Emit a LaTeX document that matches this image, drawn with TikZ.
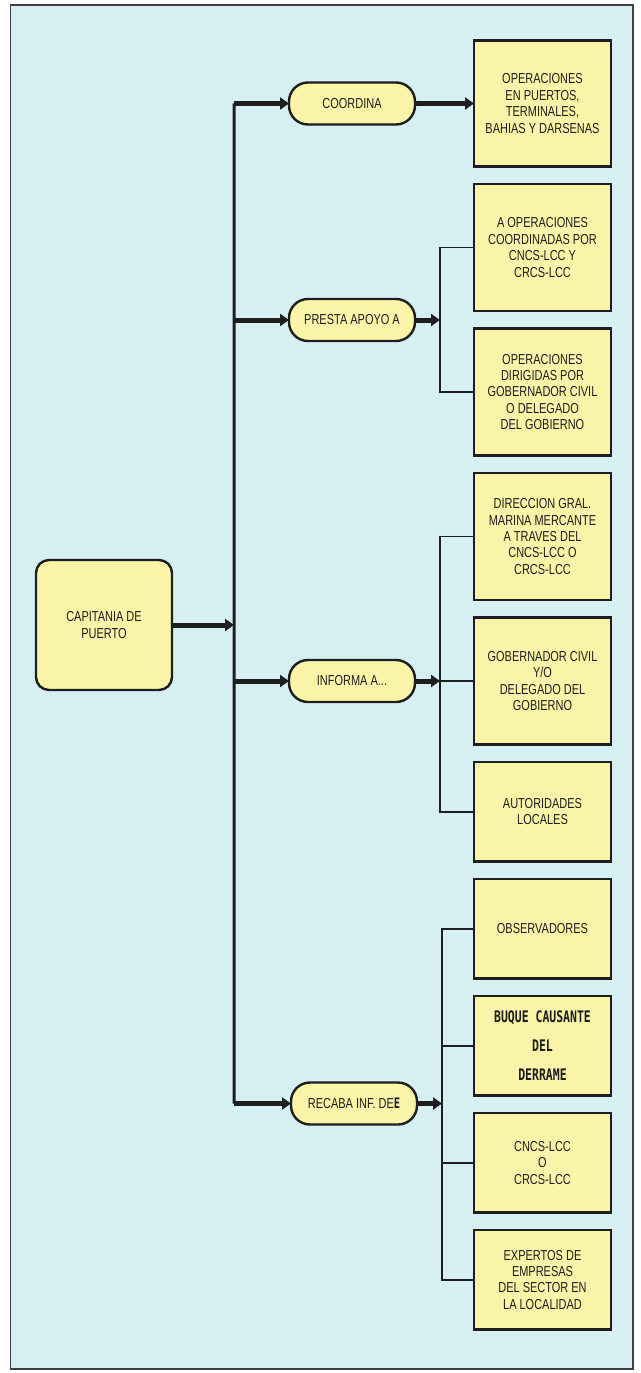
\documentclass[tikz,border=0pt]{standalone}
\usepackage{fontspec}
\setmainfont{Liberation Sans}[FakeStretch=0.76]
\newfontfamily\buquefont{DejaVu Sans Mono}[FakeStretch=0.72]
\usetikzlibrary{positioning,arrows.meta}
\definecolor{seablue}{RGB}{213,239,243}
\definecolor{boxyellow}{RGB}{250,244,168}
\definecolor{ink}{RGB}{30,30,30}

\begin{document}
\begin{tikzpicture}[
    x=1bp, y=-1bp,
    txt/.style={align=center, text=ink, font=\fontsize{14.5}{16.5}\selectfont},
    box/.style={txt, draw=ink, fill=boxyellow, line width=2.6bp, minimum width=137bp, inner sep=2bp, outer sep=0pt},
    tallbox/.style={box, minimum height=127bp},
    lowbox/.style={box, minimum height=99.5bp},
    pill/.style={txt, draw=ink, fill=boxyellow, line width=2.4bp, rounded corners=19bp,
        minimum width=126bp, minimum height=42bp, outer sep=0pt},
    capbox/.style={txt, draw=ink, fill=boxyellow, line width=2.4bp, rounded corners=13bp,
        minimum width=136bp, minimum height=130bp, outer sep=0pt},
    fat/.style={draw=ink, line width=5bp, -{Triangle[length=9bp,width=12bp]}},
    trunkline/.style={draw=ink, line width=3bp},
    branch/.style={draw=ink, line width=1.6bp},
    panel/.style={draw=ink!85, line width=1.4bp, fill=seablue}
]
    \useasboundingbox (0,0) rectangle (641,1373);
    \path[panel] (10.5,5) rectangle (633,1369);

    % Left side
    \node[capbox] (capitania) at (104,625) {CAPITANIA DE\\PUERTO};

    \node[pill] (coordina) at (352,103.5) {COORDINA};
    \node[pill] (presta) at (352,320) {PRESTA APOYO A};
    \node[pill] (informa) at (352,681) {INFORMA A...};
    \node[pill] (recaba) at (354,1103.5) {RECABA INF. DE{\buquefont\bfseries E}};

    % Right column
    \node[tallbox, minimum height=126bp] (ops) at (542.5,103.5) {OPERACIONES\\EN PUERTOS,\\TERMINALES,\\BAHIAS Y DARSENAS};
    \node[tallbox, below=17.5bp of ops] (coord) {A OPERACIONES\\COORDINADAS POR\\CNCS-LCC Y\\CRCS-LCC};
    \node[tallbox, below=17.5bp of coord] (dirig) {OPERACIONES\\DIRIGIDAS POR\\GOBERNADOR CIVIL\\O DELEGADO\\DEL GOBIERNO};
    \node[tallbox, below=17.5bp of dirig] (dirgral) {DIRECCION GRAL.\\MARINA MERCANTE\\A TRAVES DEL\\CNCS-LCC O\\CRCS-LCC};
    \node[tallbox, below=17.5bp of dirgral] (gober) {GOBERNADOR CIVIL\\Y/O\\DELEGADO DEL\\GOBIERNO};
    \node[lowbox, below=17.5bp of gober] (autor) {AUTORIDADES\\LOCALES};
    \node[lowbox, below=17.5bp of autor] (observ) {OBSERVADORES};
    \node[lowbox, below=17.5bp of observ, font=\buquefont\bfseries\fontsize{16}{29}\selectfont] (buque) {BUQUE CAUSANTE\\DEL\\DERRAME};
    \node[lowbox, below=17.5bp of buque] (cncs) {CNCS-LCC\\O\\CRCS-LCC};
    \node[lowbox, below=17.5bp of cncs] (expert) {EXPERTOS DE\\EMPRESAS\\DEL SECTOR EN\\LA LOCALIDAD};

    % Trunk
    \coordinate[left=55bp of coordina.west] (ttop);
    \coordinate[left=57bp of recaba.west] (tbot);
    \draw[trunkline] (ttop) -- (tbot);

    \draw[fat] (capitania.east) -- (capitania.east -| ttop);
    \draw[fat] (ttop) -- (coordina.west);
    \draw[fat] (presta.west -| ttop) -- (presta.west);
    \draw[fat] (informa.west -| ttop) -- (informa.west);
    \draw[fat] (tbot) -- (recaba.west);

    % Joins
    \coordinate[right=25bp of presta.east] (pjoin);
    \coordinate[right=25bp of informa.east] (ijoin);
    \coordinate[right=25bp of recaba.east] (rjoin);

    \draw[fat] (coordina.east) -- (coordina.east -| ops.west);
    \draw[fat] (presta.east) -- (pjoin);
    \draw[fat] (informa.east) -- (ijoin);
    \draw[fat] (recaba.east) -- (rjoin);

    \draw[branch] (coord.west) -| (pjoin) |- (dirig.west);
    \draw[branch] (dirgral.west) -| (ijoin) |- (autor.west);
    \draw[branch] (ijoin) -- (gober.west);
    \draw[branch] (observ.west) -| (rjoin) |- (expert.west);
    \draw[branch] (buque.west) -- (buque.west -| rjoin);
    \draw[branch] (cncs.west) -- (cncs.west -| rjoin);
\end{tikzpicture}
\end{document}
